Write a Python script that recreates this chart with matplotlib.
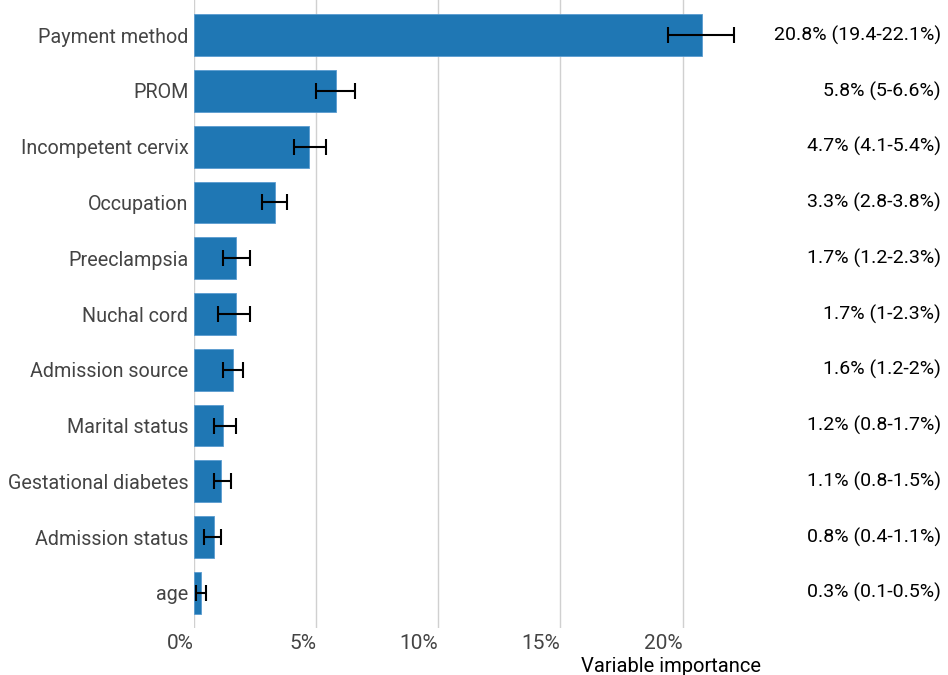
import numpy as np
import matplotlib.pyplot as plt

features = ["Payment method", "PROM", "Incompetent cervix", "Occupation", "Preeclampsia",
            "Nuchal cord", "Admission source", "Marital status", "Gestational diabetes",
            "Admission status", "age"]
importance = [20.8, 5.8, 4.7, 3.3, 1.7, 1.7, 1.6, 1.2, 1.1, 0.8, 0.3]
lower = [19.4, 5.0, 4.1, 2.8, 1.2, 1.0, 1.2, 0.8, 0.8, 0.4, 0.1]
upper = [22.1, 6.6, 5.4, 3.8, 2.3, 2.3, 2.0, 1.7, 1.5, 1.1, 0.5]
labels = ["20.8% (19.4-22.1%)", "5.8% (5-6.6%)", "4.7% (4.1-5.4%)", "3.3% (2.8-3.8%)",
          "1.7% (1.2-2.3%)", "1.7% (1-2.3%)", "1.6% (1.2-2%)", "1.2% (0.8-1.7%)",
          "1.1% (0.8-1.5%)", "0.8% (0.4-1.1%)", "0.3% (0.1-0.5%)"]
xticks = [0, 5, 10, 15, 20]

plt.rcParams["font.family"] = ["Roboto", "DejaVu Sans"]

fig = plt.figure(figsize=(9.48, 6.75), dpi=100)
ax = fig.add_axes([0.2046, 0.0696, 0.598, 0.9304])

y = np.arange(len(features))
imp = np.array(importance)
err = [imp - np.array(lower), np.array(upper) - imp]

ax.set_axisbelow(True)
ax.grid(axis="x", color="#d0d0d0", linewidth=1)
ax.barh(y, imp, height=0.75, color="#1f77b4", edgecolor="#5a9bd0", linewidth=0.6)
ax.errorbar(imp, y, xerr=err, fmt="none", ecolor="black", elinewidth=1.5,
            capsize=6, capthick=1.5)

ax.set_ylim(len(features) - 1 + 0.63, -0.63)
ax.set_xlim(0, 23.2)
ax.set_yticks(y)
ax.set_yticklabels(features, fontsize=14.2, color="#444444")
ax.set_xticks(xticks)
ax.set_xticklabels([f"{t}%" for t in xticks], fontsize=15, color="#444444", ha="right")
ax.tick_params(length=0, pad=4)
for s in ax.spines.values():
    s.set_visible(False)

for yi, txt in zip(y, labels):
    ax.annotate(txt, xy=(1.0, yi), xycoords=("figure fraction", "data"),
                xytext=(-5, 0), textcoords="offset points",
                ha="right", va="center", fontsize=14, color="black")

ax.set_xlabel("Variable importance", fontsize=14.5, color="black", loc="right", labelpad=3)

fig.savefig("out.png", dpi=100)
